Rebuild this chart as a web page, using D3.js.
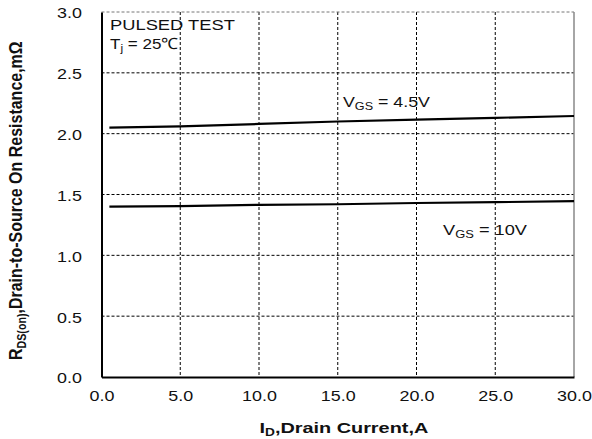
<!DOCTYPE html>
<html>
<head>
<meta charset="utf-8">
<script src="https://cdn.jsdelivr.net/npm/d3@7"></script>
<style>
  body { margin: 0; background: #fff; }
  text { font-family: "Liberation Sans", Arial, sans-serif; fill: #111; }
</style>
</head>
<body>
<div id="chart"></div>
<script>
// drain current (A) samples and on-resistance (mOhm) per gate voltage
const currents = [0.5, 5, 10, 15, 20, 25, 30];
const rds45 = [2.05, 2.06, 2.08, 2.10, 2.115, 2.13, 2.145];
const rds10 = [1.40, 1.405, 1.415, 1.42, 1.43, 1.437, 1.445];
const xTicks = [0, 5, 10, 15, 20, 25, 30];
const yTicks = [0, 0.5, 1.0, 1.5, 2.0, 2.5, 3.0];

const W = 592, H = 439;
const margin = { top: 12, right: 18, bottom: 62, left: 101.5 };
const width = W - margin.left - margin.right;
const height = H - margin.top - margin.bottom;

// the reference text is drawn wide, so text gets a horizontal stretch
const tickStretch = 1.28;

const svg = d3.select("#chart").append("svg")
    .attr("width", W)
    .attr("height", H);

const g = svg.append("g")
    .attr("transform", `translate(${margin.left},${margin.top})`);

const x = d3.scaleLinear().domain([0, 30]).range([0, width]);
const y = d3.scaleLinear().domain([0, 3]).range([height, 0]);

// grid
g.selectAll(".vgrid")
  .data(xTicks.slice(1, -1))
  .join("line")
    .attr("x1", d => x(d)).attr("x2", d => x(d))
    .attr("y1", 0).attr("y2", height)
    .attr("stroke", "#000")
    .attr("stroke-width", 1)
    .attr("stroke-dasharray", "3,2");

g.selectAll(".hgrid")
  .data(yTicks.slice(1, -1))
  .join("line")
    .attr("x1", 0).attr("x2", width)
    .attr("y1", d => y(d)).attr("y2", d => y(d))
    .attr("stroke", "#000")
    .attr("stroke-width", 1)
    .attr("stroke-dasharray", "3,2");

// top and right frame
g.append("line")
    .attr("x1", 0).attr("x2", width).attr("y1", 0).attr("y2", 0)
    .attr("stroke", "#777").attr("stroke-width", 1).attr("stroke-dasharray", "3,2");
g.append("line")
    .attr("x1", width).attr("x2", width).attr("y1", 0).attr("y2", height)
    .attr("stroke", "#888").attr("stroke-width", 1.5);

// axes
g.append("g")
    .attr("transform", `translate(0,${height})`)
    .call(d3.axisBottom(x).tickValues(xTicks).tickSize(0).tickPadding(14).tickFormat(d3.format(".1f")))
    .call(a => a.select(".domain").attr("stroke-width", 2))
    .selectAll("text")
    .style("font-size", "14px")
    .style("font-family", "Liberation Sans, Arial, sans-serif")
    .attr("transform", `scale(${tickStretch},1)`);

g.append("g")
    .call(d3.axisLeft(y).tickValues(yTicks).tickSize(0).tickFormat(d3.format(".1f")))
    .call(a => a.select(".domain").attr("stroke-width", 2))
    .selectAll("text")
    .style("font-size", "14px")
    .style("font-family", "Liberation Sans, Arial, sans-serif")
    .attr("x", 0)
    .attr("transform", `translate(-19.5,1.5) scale(${tickStretch},1)`);

// curves
const line = d3.line()
    .x((d, i) => x(currents[i]))
    .y(d => y(d));

[rds45, rds10].forEach(s => {
  g.append("path")
      .datum(s)
      .attr("fill", "none")
      .attr("stroke", "#000")
      .attr("stroke-width", 2.2)
      .attr("d", line);
});

// stretch a text to a given width, anchored at (px, py)
function fit(t, px, py, w, anchor) {
  const len = t.node().getComputedTextLength();
  const s = w / len;
  const off = anchor === "middle" ? -w / 2 : 0;
  t.attr("transform", `translate(${px + off},${py}) scale(${s},1)`);
}

function sub(parent, base, subTxt, rest, size, subSize) {
  const t = parent.append("text").style("font-size", size + "px");
  t.append("tspan").text(base);
  t.append("tspan").attr("dy", 3).style("font-size", subSize + "px").text(subTxt);
  t.append("tspan").attr("dy", -3).text(rest);
  return t;
}

// annotations
const pulsed = svg.append("text").style("font-size", "15.5px").text("PULSED TEST");
fit(pulsed, 110, 30, 125);

fit(sub(svg, "T", "j", " = 25℃", 15.5, 11), 110, 49, 68);
fit(sub(svg, "V", "GS", " = 4.5V", 15.5, 11), 343, 107, 87);
fit(sub(svg, "V", "GS", " = 10V", 15.5, 11), 443, 235, 84);

// axis titles
const xt = sub(svg, "I", "D", ",Drain Current,A", 14.5, 10).style("font-weight", "bold");
fit(xt, 344, 433, 169, "middle");

const yt = sub(svg, "R", "DS(on)", ",Drain-to-Source On Resistance,mΩ", 15, 10).style("font-weight", "bold");
const yLen = yt.node().getComputedTextLength();
yt.attr("transform", `translate(22,${200.5 + 319 / 2}) rotate(-90) scale(${319 / yLen},1.22)`);
</script>
</body>
</html>
